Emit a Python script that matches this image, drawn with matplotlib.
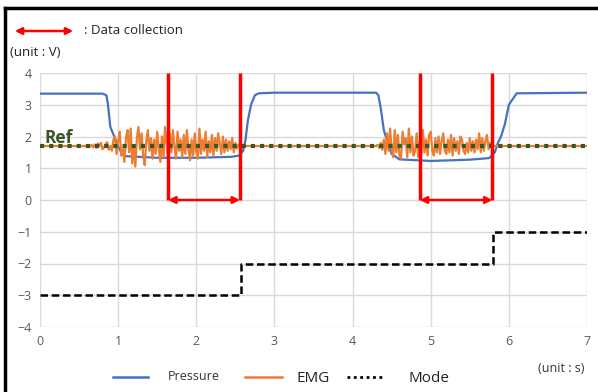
import numpy as np
import matplotlib
matplotlib.use("Agg")
import matplotlib.pyplot as plt
from matplotlib.lines import Line2D
from matplotlib.patches import FancyArrowPatch

plt.rcParams['font.family'] = ['Open Sans', 'DejaVu Sans']

# ---- data ----
press_t = [0.0, 0.80, 0.85, 0.87, 0.90, 0.95, 1.00, 1.05, 1.10, 1.50, 2.00, 2.45, 2.55, 2.60,
           2.63, 2.66, 2.70, 2.75, 2.80, 3.00, 4.30, 4.33, 4.36, 4.40, 4.45, 4.50, 4.60, 5.00,
           5.50, 5.75, 5.82, 5.86, 5.90, 5.95, 6.00, 6.10, 7.00]
press_v = [3.35, 3.35, 3.30, 3.00, 2.30, 2.00, 1.70, 1.45, 1.38, 1.33, 1.33, 1.36, 1.40, 1.55,
           1.90, 2.50, 3.00, 3.30, 3.36, 3.38, 3.38, 3.30, 2.90, 2.20, 1.80, 1.45, 1.28, 1.23,
           1.27, 1.32, 1.50, 1.80, 2.00, 2.40, 3.00, 3.36, 3.38]

emg_b1 = [1.70, 1.72, 1.68, 1.74, 1.66, 1.75,
          1.64, 1.78, 1.70, 1.80, 1.60, 1.66, 1.76, 1.82, 1.58, 1.70,
          1.55, 1.90, 2.00, 1.45, 1.85, 2.15, 1.40, 1.60, 1.20, 1.95,
          2.20, 1.50, 2.25, 1.15, 1.70, 1.05, 1.95, 2.30, 1.60, 2.10,
          1.40, 1.10, 1.85, 2.20, 1.55, 1.95, 1.30, 1.90, 1.45, 2.15,
          1.60, 1.20, 2.00, 1.35, 2.30, 1.80, 1.25, 2.10, 1.50, 2.20,
          1.70, 1.30, 2.15, 1.55, 1.90, 1.35, 2.05, 1.45, 2.20, 1.60,
          1.25, 1.90, 1.40, 2.10, 1.50, 1.30, 2.25, 1.45, 1.90, 1.55,
          2.15, 1.35, 1.85, 1.50, 2.05, 1.40, 1.95, 1.55, 2.10, 1.80,
          1.45, 2.00, 1.50, 1.90, 1.55, 1.85, 1.60, 1.95, 1.50, 1.80,
          1.62, 1.75, 1.68, 1.72, 1.70]
emg_b2 = [1.70, 1.74, 1.64, 1.80, 1.58, 1.90,
          1.45, 2.10, 1.55, 2.25, 1.60, 1.35, 2.20, 1.50, 2.05, 1.40,
          1.30, 2.15, 1.75, 1.95, 1.35, 2.25, 1.50, 2.00, 1.40, 1.55,
          2.10, 1.35, 1.85, 1.45, 2.20, 1.50, 1.90, 1.40, 2.05, 2.15,
          1.55, 1.40, 1.95, 1.50, 2.00, 1.45, 1.85, 2.10, 1.55, 1.45,
          1.90, 1.50, 2.05, 1.40, 1.95, 1.55, 1.85, 1.45, 2.00, 1.90,
          1.55, 1.45, 1.80, 1.50, 1.95, 1.55, 1.85, 1.50, 1.90, 1.60,
          2.10, 1.50, 1.95, 1.55, 1.85, 2.05, 1.60, 1.80, 1.65, 1.70]
emg_b1_start, emg_b2_start, emg_step = 0.60, 4.30, 0.02
emg_base = 1.70

ref_level = 1.70

mode_t = [0.0, 2.57, 2.57, 5.80, 5.80, 7.0]
mode_v = [-3, -3, -2, -2, -1, -1]

collect_start = [1.64, 4.86]
collect_end = [2.56, 5.79]

xticks = list(range(0, 8))
yticks = list(range(-4, 5))

# ---- figure ----
W, H = 598, 392
fig = plt.figure(figsize=(W / 100, H / 100), dpi=100)
ax = fig.add_axes([40 / W, 1 - 327 / H, (587 - 40) / W, (327 - 73) / H])

ax.set_xlim(0, 7)
ax.set_ylim(-4, 4)
ax.set_xticks(xticks)
ax.set_yticks(yticks)
ax.grid(True, color='#d9d9d9', lw=1)
for s in ax.spines.values():
    s.set_visible(False)
ax.tick_params(length=0, labelsize=9, colors='#595959', pad=6)

# EMG series
b1_t = emg_b1_start + emg_step * np.arange(len(emg_b1))
b2_t = emg_b2_start + emg_step * np.arange(len(emg_b2))
emg_t = np.concatenate([[0.0], b1_t, b2_t, [7.0]])
emg_v = np.concatenate([[emg_base], emg_b1, emg_b2, [emg_base]])

ax.plot(press_t, press_v, color='#4472C4', lw=1.6, zorder=3)
ax.plot(emg_t, emg_v, color='#ED7D31', lw=1.6, zorder=4)
ax.plot([0, 7], [ref_level, ref_level], color='#375623', lw=3,
        linestyle=(0, (1, 1.2)), zorder=5)
ax.text(0.06, ref_level + 0.1, 'Ref', color='#375623', fontsize=12.5,
        fontweight='bold', zorder=6)
ax.plot(mode_t, mode_v, color='black', lw=1.8, linestyle=(0, (3, 1.5)), zorder=4)

for a, b in zip(collect_start, collect_end):
    ax.plot([a, a], [4, 0], color='#FF0000', lw=2.5, zorder=6, solid_capstyle='butt')
    ax.plot([b, b], [4, 0], color='#FF0000', lw=2.5, zorder=6, solid_capstyle='butt')
    ax.annotate('', xy=(a, 0), xytext=(b, 0),
                arrowprops=dict(arrowstyle='<|-|>', color='#FF0000', lw=1.8,
                                mutation_scale=10, shrinkA=0, shrinkB=0), zorder=6)

# top annotations
arr = FancyArrowPatch((12 / W, 1 - 31 / H), (76 / W, 1 - 31 / H), transform=fig.transFigure,
                      arrowstyle='<|-|>', color='#FF0000', lw=1.8, mutation_scale=10)
fig.patches.append(arr)
fig.text(84 / W, 1 - 31 / H, ': Data collection', fontsize=9.5, va='center', color='#222222')
fig.text(10 / W, 1 - 52 / H, '(unit : V)', fontsize=9.5, va='center', color='#222222')
fig.text(538 / W, 1 - 369 / H, '(unit : s)', fontsize=9, va='center', color='#333333')

# bottom legend
ly = 1 - 377 / H
fig.lines.append(Line2D([113 / W, 148 / W], [ly, ly], transform=fig.transFigure,
                        color='#4472C4', lw=1.8))
fig.text(168 / W, ly, 'Pressure', fontsize=9, va='center', color='#333333')
fig.lines.append(Line2D([245 / W, 282 / W], [ly, ly], transform=fig.transFigure,
                        color='#ED7D31', lw=1.8))
fig.text(296 / W, ly - 0.004, 'EMG', fontsize=11, va='center', color='#222222')
fig.lines.append(Line2D([347 / W, 385 / W], [ly, ly], transform=fig.transFigure,
                        color='black', lw=2, linestyle=(0, (1, 1.3))))
fig.text(408 / W, ly - 0.004, 'Mode', fontsize=11, va='center', color='#222222')

# screenshot border (left, top)
fig.lines.append(Line2D([5 / W, 5 / W], [0, 1 - 8 / H], transform=fig.transFigure,
                        color='black', lw=2.5))
fig.lines.append(Line2D([5 / W, 1], [1 - 8 / H, 1 - 8 / H], transform=fig.transFigure,
                        color='black', lw=2.5))

fig.savefig('out.png', dpi=100)
